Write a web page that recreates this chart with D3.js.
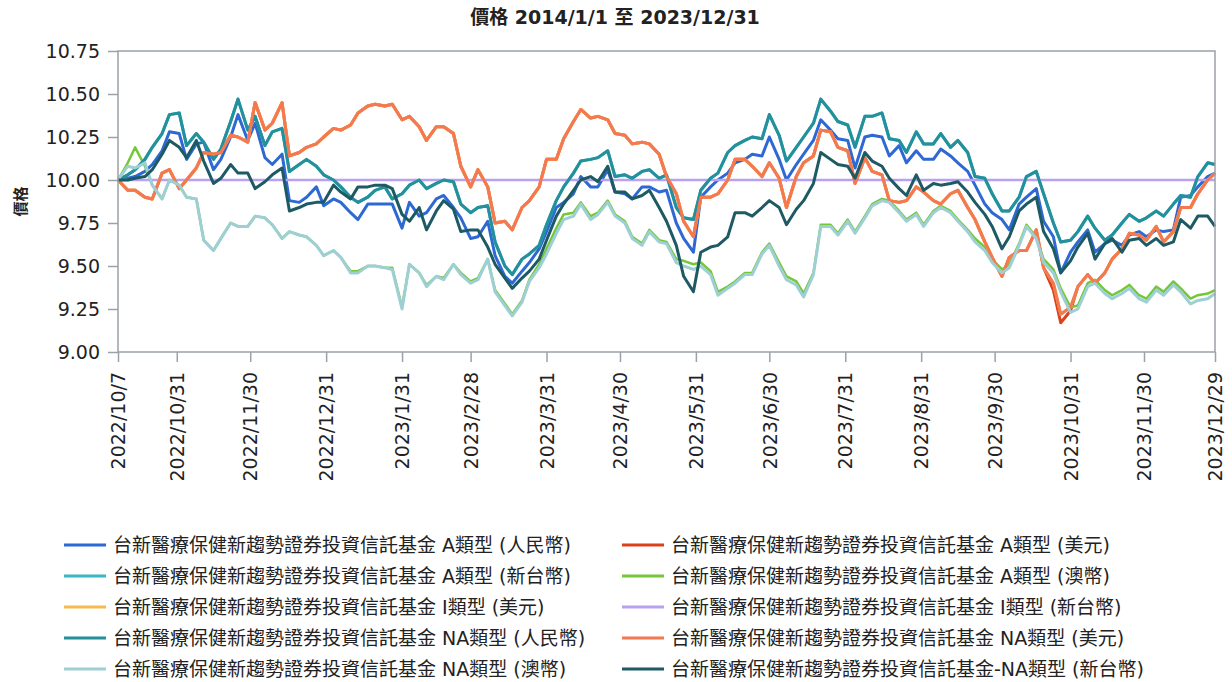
<!DOCTYPE html>
<html lang="zh-Hant">
<head>
<meta charset="UTF-8">
<title>價格 2014/1/1 至 2023/12/31</title>
<script src="https://d3js.org/d3.v7.min.js"></script>
<style>
  body { margin: 0; background: #fff; }
  svg { display: block; font-family: "DejaVu Sans", "Noto Sans CJK TC", sans-serif; }
</style>
</head>
<body>
<svg id="chart" width="1232" height="682"></svg>
<script>
// prices sampled every Tuesday and Friday, 2022/10/7 .. 2023/12/29
const startDate = new Date(2022, 9, 7);
const endDate = new Date(2023, 11, 29);
const dates = d3.timeDay.range(startDate, new Date(2023, 11, 30))
  .filter(d => d.getDay() === 2 || d.getDay() === 5);

const tickLabels = ["2022/10/7", "2022/10/31", "2022/11/30", "2022/12/31", "2023/1/31", "2023/2/28",
  "2023/3/31", "2023/4/30", "2023/5/31", "2023/6/30", "2023/7/31", "2023/8/31", "2023/9/30",
  "2023/10/31", "2023/11/30", "2023/12/29"];
const yTicks = [9.00, 9.25, 9.50, 9.75, 10.00, 10.25, 10.50, 10.75];

const aRmb = [10.00,10.01,10.02,10.05,10.09,10.17,10.28,10.27,10.12,10.21,
  10.22,10.06,10.12,10.25,10.38,10.23,10.33,10.13,10.09,10.15,
  9.88,9.87,9.90,9.96,9.85,9.89,9.87,9.81,9.77,9.86,
  9.86,9.86,9.86,9.72,9.87,9.79,9.81,9.89,9.91,9.84,
  9.78,9.66,9.67,9.76,9.56,9.44,9.40,9.47,9.52,9.60,
  9.70,9.84,9.87,9.92,10.02,9.96,9.96,10.06,9.93,9.92,
  9.89,9.96,9.96,9.93,9.94,9.75,9.66,9.58,9.90,9.96,
  10.00,10.04,10.10,10.12,10.15,10.14,10.25,10.12,10.00,10.09,
  10.15,10.23,10.35,10.29,10.24,10.23,10.07,10.25,10.26,10.25,
  10.14,10.20,10.10,10.17,10.12,10.12,10.18,10.14,10.10,10.05,
  9.97,9.86,9.81,9.77,9.71,9.86,9.90,9.95,9.76,9.67,
  9.46,9.58,9.64,9.71,9.58,9.63,9.65,9.62,9.68,9.70,
  9.67,9.71,9.70,9.71,9.90,9.91,9.96,10.02,10.04];
const aUsd = [10.00,9.94,9.94,9.90,9.89,10.04,10.06,9.95,10.00,10.07,
  10.16,10.15,10.16,10.26,10.25,10.22,10.45,10.29,10.33,10.45,
  10.14,10.16,10.19,10.21,10.25,10.30,10.29,10.32,10.39,10.43,
  10.44,10.43,10.44,10.35,10.37,10.31,10.23,10.31,10.31,10.27,
  10.08,9.96,10.06,9.96,9.75,9.76,9.71,9.84,9.88,9.96,
  10.12,10.12,10.24,10.34,10.41,10.36,10.37,10.35,10.27,10.26,
  10.21,10.22,10.21,10.15,10.02,9.92,9.76,9.67,9.90,9.90,
  9.92,10.00,10.12,10.12,10.08,10.02,10.10,10.01,9.84,10.02,
  10.10,10.14,10.29,10.28,10.19,10.17,9.98,10.13,10.05,10.03,
  9.88,9.87,9.88,9.96,9.93,9.88,9.86,9.92,9.94,9.84,
  9.77,9.64,9.55,9.44,9.55,9.59,9.59,9.71,9.49,9.36,
  9.17,9.24,9.38,9.45,9.40,9.46,9.54,9.60,9.69,9.68,
  9.65,9.73,9.64,9.70,9.84,9.84,9.92,10.00,10.04];
const aTwd = [10.00,10.03,10.06,10.12,10.19,10.27,10.38,10.39,10.20,10.27,
  10.22,10.12,10.18,10.34,10.47,10.29,10.37,10.20,10.28,10.30,
  10.05,10.09,10.12,10.08,10.03,10.00,9.96,9.90,9.87,9.90,
  9.94,9.96,9.89,9.92,9.97,10.00,9.95,9.98,10.00,9.99,
  9.86,9.81,9.84,9.85,9.64,9.50,9.45,9.54,9.57,9.62,
  9.74,9.88,9.96,10.04,10.11,10.12,10.13,10.17,10.02,10.03,
  10.01,10.05,10.06,10.01,10.03,9.84,9.78,9.77,9.94,10.01,
  10.04,10.16,10.20,10.23,10.25,10.24,10.38,10.26,10.11,10.19,
  10.25,10.33,10.47,10.40,10.34,10.32,10.19,10.37,10.37,10.39,
  10.24,10.23,10.16,10.28,10.21,10.21,10.27,10.19,10.23,10.16,
  10.02,10.01,9.92,9.82,9.82,9.90,10.02,10.05,9.92,9.75,
  9.64,9.65,9.70,9.79,9.72,9.65,9.68,9.75,9.80,9.76,
  9.78,9.82,9.79,9.86,9.91,9.90,10.02,10.10,10.09];
const aAud = [10.00,10.10,10.19,10.08,9.97,9.89,10.00,9.97,9.90,9.89,
  9.65,9.59,9.66,9.75,9.73,9.73,9.79,9.78,9.74,9.66,
  9.70,9.68,9.67,9.62,9.56,9.59,9.55,9.47,9.47,9.50,
  9.50,9.49,9.49,9.26,9.51,9.46,9.39,9.44,9.43,9.51,
  9.46,9.41,9.43,9.54,9.36,9.28,9.22,9.30,9.42,9.51,
  9.60,9.72,9.80,9.81,9.87,9.79,9.81,9.88,9.80,9.76,
  9.67,9.63,9.71,9.65,9.64,9.54,9.53,9.51,9.52,9.47,
  9.35,9.38,9.41,9.46,9.46,9.58,9.63,9.52,9.44,9.41,
  9.34,9.46,9.74,9.74,9.69,9.77,9.70,9.79,9.86,9.89,
  9.88,9.82,9.77,9.81,9.74,9.82,9.85,9.82,9.77,9.71,
  9.66,9.61,9.54,9.48,9.51,9.63,9.74,9.67,9.54,9.48,
  9.37,9.26,9.27,9.40,9.42,9.36,9.33,9.36,9.39,9.33,
  9.31,9.38,9.35,9.41,9.37,9.31,9.33,9.34,9.36];
const iUsd = [10.00,9.94,9.94,9.90,9.89,10.04,10.06,9.95,10.00,10.07,
  10.16,10.15,10.16,10.26,10.25,10.22,10.45,10.29,10.33,10.45,
  10.14,10.16,10.19,10.21,10.25,10.30,10.29,10.32,10.39,10.43,
  10.44,10.43,10.44,10.35,10.37,10.31,10.23,10.31,10.31,10.27,
  10.08,9.96,10.06,9.96,9.75,9.76,9.71,9.84,9.88,9.96,
  10.12,10.12,10.24,10.34,10.41,10.36,10.37,10.35,10.27,10.26,
  10.21,10.22,10.21,10.15,10.02,9.92,9.76,9.67,9.90,9.90,
  9.92,10.00,10.12,10.12,10.08,10.02,10.10,10.01,9.84,10.02,
  10.10,10.14,10.29,10.28,10.19,10.17,9.98,10.13,10.05,10.03,
  9.88,9.87,9.88,9.96,9.93,9.88,9.86,9.92,9.94,9.84,
  9.77,9.64,9.55,9.44,9.55,9.59,9.59,9.71,9.49,9.40,
  9.22,9.26,9.38,9.45,9.40,9.46,9.54,9.60,9.69,9.68,
  9.65,9.73,9.64,9.70,9.84,9.84,9.92,10.00,10.04];
const iTwd = [10,10,10,10,10,10,10,10,10,10, 10,10,10,10,10,10,10,10,10,10,
  10,10,10,10,10,10,10,10,10,10, 10,10,10,10,10,10,10,10,10,10,
  10,10,10,10,10,10,10,10,10,10, 10,10,10,10,10,10,10,10,10,10,
  10,10,10,10,10,10,10,10,10,10, 10,10,10,10,10,10,10,10,10,10,
  10,10,10,10,10,10,10,10,10,10, 10,10,10,10,10,10,10,10,10,10,
  10,10,10,10,10,10,10,10,10,10, 10,10,10,10,10,10,10,10,10,10,
  10,10,10,10,10,10,10,10,10];
const naRmb = [10.00,10.03,10.06,10.12,10.19,10.27,10.38,10.39,10.20,10.27,
  10.22,10.12,10.18,10.34,10.47,10.29,10.37,10.20,10.28,10.30,
  10.05,10.09,10.12,10.08,10.03,10.00,9.96,9.90,9.87,9.90,
  9.94,9.96,9.89,9.92,9.97,10.00,9.95,9.98,10.00,9.99,
  9.86,9.81,9.84,9.85,9.64,9.50,9.45,9.54,9.57,9.62,
  9.74,9.88,9.96,10.04,10.11,10.12,10.13,10.17,10.02,10.03,
  10.01,10.05,10.06,10.01,10.03,9.84,9.78,9.77,9.94,10.01,
  10.04,10.16,10.20,10.23,10.25,10.24,10.38,10.26,10.11,10.19,
  10.25,10.33,10.47,10.40,10.34,10.32,10.19,10.37,10.37,10.39,
  10.24,10.23,10.16,10.28,10.21,10.21,10.27,10.19,10.23,10.16,
  10.02,10.01,9.92,9.82,9.82,9.90,10.02,10.05,9.92,9.75,
  9.64,9.65,9.70,9.79,9.72,9.65,9.68,9.75,9.80,9.76,
  9.78,9.82,9.79,9.86,9.91,9.90,10.02,10.10,10.09];
const naUsd = [10.00,9.94,9.94,9.90,9.89,10.04,10.06,9.95,10.00,10.07,
  10.16,10.15,10.16,10.26,10.25,10.22,10.45,10.29,10.33,10.45,
  10.14,10.16,10.19,10.21,10.25,10.30,10.29,10.32,10.39,10.43,
  10.44,10.43,10.44,10.35,10.37,10.31,10.23,10.31,10.31,10.27,
  10.08,9.96,10.06,9.96,9.75,9.76,9.71,9.84,9.88,9.96,
  10.12,10.12,10.24,10.34,10.41,10.36,10.37,10.35,10.27,10.26,
  10.21,10.22,10.21,10.15,10.02,9.92,9.76,9.67,9.90,9.90,
  9.92,10.00,10.12,10.12,10.08,10.02,10.10,10.01,9.84,10.02,
  10.10,10.14,10.29,10.28,10.19,10.17,9.98,10.13,10.05,10.03,
  9.88,9.87,9.88,9.96,9.93,9.88,9.86,9.92,9.94,9.84,
  9.77,9.64,9.55,9.44,9.55,9.59,9.59,9.71,9.49,9.40,
  9.22,9.26,9.38,9.45,9.40,9.46,9.54,9.60,9.69,9.68,
  9.65,9.73,9.64,9.70,9.84,9.84,9.92,10.00,10.04];
const naAud = [10.00,10.08,10.07,10.10,9.97,9.89,10.00,9.97,9.90,9.89,
  9.65,9.59,9.66,9.75,9.73,9.73,9.79,9.78,9.74,9.66,
  9.70,9.68,9.67,9.62,9.56,9.59,9.55,9.46,9.46,9.50,
  9.50,9.49,9.48,9.25,9.51,9.46,9.38,9.44,9.42,9.51,
  9.45,9.40,9.42,9.54,9.35,9.27,9.21,9.29,9.41,9.49,
  9.57,9.69,9.77,9.79,9.86,9.77,9.80,9.87,9.79,9.75,
  9.66,9.62,9.70,9.64,9.63,9.52,9.50,9.48,9.50,9.45,
  9.33,9.37,9.40,9.45,9.45,9.57,9.62,9.50,9.42,9.39,
  9.32,9.45,9.73,9.73,9.68,9.76,9.69,9.78,9.85,9.88,
  9.87,9.81,9.76,9.80,9.73,9.81,9.84,9.81,9.76,9.70,
  9.64,9.59,9.52,9.46,9.49,9.62,9.73,9.66,9.52,9.46,
  9.35,9.23,9.25,9.38,9.40,9.34,9.31,9.34,9.37,9.31,
  9.29,9.36,9.33,9.39,9.35,9.28,9.30,9.31,9.34];
const naTwd = [10.00,10.00,10.01,10.02,10.06,10.15,10.23,10.19,10.13,10.23,
  10.11,9.98,10.01,10.09,10.04,10.04,9.95,9.99,10.03,10.07,
  9.82,9.84,9.86,9.87,9.87,9.97,9.93,9.89,9.96,9.96,
  9.97,9.97,9.95,9.80,9.76,9.84,9.71,9.82,9.88,9.83,
  9.70,9.71,9.71,9.61,9.51,9.43,9.37,9.43,9.47,9.54,
  9.65,9.79,9.86,9.94,10.00,10.02,9.99,10.08,9.93,9.93,
  9.89,9.91,9.94,9.84,9.76,9.62,9.44,9.35,9.58,9.61,
  9.62,9.67,9.81,9.81,9.79,9.84,9.88,9.84,9.74,9.83,
  9.88,9.98,10.16,10.12,10.09,10.08,10.01,10.16,10.11,10.08,
  10.01,9.95,9.91,10.03,9.94,9.98,9.97,9.98,9.99,9.93,
  9.87,9.80,9.73,9.60,9.67,9.82,9.86,9.90,9.70,9.60,
  9.46,9.53,9.61,9.69,9.54,9.63,9.66,9.58,9.65,9.66,
  9.62,9.66,9.62,9.64,9.77,9.72,9.79,9.79,9.73];

const fund = "台新醫療保健新趨勢證券投資信託基金";
const series = [
  { name: fund + " A類型 (人民幣)", values: aRmb, color: "#2e69d3", w: 3 },
  { name: fund + " A類型 (美元)", values: aUsd, color: "#d8431d", w: 3 },
  { name: fund + " A類型 (新台幣)", values: aTwd, color: "#3ab5c6", w: 3 },
  { name: fund + " A類型 (澳幣)", values: aAud, color: "#74c738", w: 2.5 },
  { name: fund + " I類型 (美元)", values: iUsd, color: "#f5b94c", w: 3 },
  { name: fund + " I類型 (新台幣)", values: iTwd, color: "#b9a0f0", w: 2.5 },
  { name: fund + " NA類型 (人民幣)", values: naRmb, color: "#23909c", w: 3 },
  { name: fund + " NA類型 (美元)", values: naUsd, color: "#f47850", w: 3 },
  { name: fund + " NA類型 (澳幣)", values: naAud, color: "#9dcfd4", w: 3 },
  { name: fund + "-NA類型 (新台幣)", values: naTwd, color: "#1d5a64", w: 3 }
];

const svg = d3.select("#chart");
const plot = { left: 118, right: 1215, top: 51, bottom: 352 };
const axisColor = "#9ba1a8";

const x = d3.scaleTime().domain([startDate, endDate]).range([plot.left, plot.right]);
const y = d3.scaleLinear().domain([9, 10.75]).range([plot.bottom, plot.top]);
const parse = d3.timeParse("%Y/%m/%d");

// title
svg.append("text")
  .attr("x", 615).attr("y", 24)
  .attr("text-anchor", "middle")
  .attr("font-size", 19).attr("font-weight", "bold").attr("fill", "#222")
  .text("價格 2014/1/1 至 2023/12/31");

// y axis title
svg.append("text")
  .attr("transform", "translate(26," + (plot.top + plot.bottom) / 2 + ") rotate(-90)")
  .attr("text-anchor", "middle")
  .attr("font-size", 15).attr("font-weight", "bold").attr("fill", "#222")
  .text("價格");

// y axis
const yAxis = svg.append("g")
  .attr("transform", "translate(" + plot.left + ",0)")
  .call(d3.axisLeft(y).tickValues(yTicks).tickFormat(d3.format(".2f")).tickSize(10).tickPadding(8));
yAxis.select(".domain").remove();
yAxis.attr("font-family", null);
yAxis.selectAll("line").attr("stroke", axisColor).attr("stroke-width", 1.5);
yAxis.selectAll("text").attr("font-size", 19).attr("fill", "#222");

// x axis
const xAxis = svg.append("g")
  .attr("transform", "translate(0," + plot.bottom + ")")
  .call(d3.axisBottom(x).tickValues(tickLabels.map(parse)).tickFormat((d, i) => tickLabels[i]).tickSize(10));
xAxis.select(".domain").remove();
xAxis.attr("font-family", null);
xAxis.selectAll("line").attr("stroke", axisColor).attr("stroke-width", 1.5);
xAxis.selectAll("text")
  .attr("font-size", 19).attr("fill", "#222")
  .attr("transform", "rotate(-90)")
  .attr("text-anchor", "end")
  .attr("x", -20).attr("y", 0).attr("dy", "0.35em");

// lines
const line = d3.line()
  .x((d, i) => x(dates[i]))
  .y(d => y(d));

svg.append("g")
  .selectAll("path")
  .data(series)
  .join("path")
  .attr("fill", "none")
  .attr("stroke", d => d.color)
  .attr("stroke-width", d => d.w)
  .attr("stroke-linejoin", "round")
  .attr("d", d => line(d.values));

// frame
svg.append("rect")
  .attr("x", plot.left).attr("y", plot.top)
  .attr("width", plot.right - plot.left).attr("height", plot.bottom - plot.top)
  .attr("fill", "none").attr("stroke", axisColor).attr("stroke-width", 1.5);

// legend, two columns
const legend = svg.append("g")
  .selectAll("g")
  .data(series)
  .join("g")
  .attr("transform", (d, i) => "translate(" + (i % 2 ? 622 : 64) + "," + (545 + Math.floor(i / 2) * 31) + ")");
legend.append("line")
  .attr("x1", 0).attr("x2", 42)
  .attr("stroke", d => d.color).attr("stroke-width", 3);
legend.append("text")
  .attr("x", 49).attr("dy", "0.35em")
  .attr("font-size", 19).attr("fill", "#222")
  .text(d => d.name);
</script>
</body>
</html>
